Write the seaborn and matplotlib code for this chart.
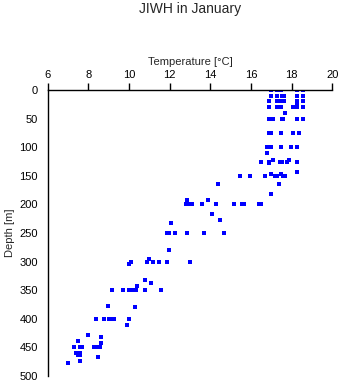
import matplotlib
matplotlib.use("Agg")
import matplotlib.pyplot as plt
import seaborn as sns
import pandas as pd

depth_m = (
    [0] * 5 + [10] * 6 + [20] * 6 + [25] + [30] * 6 + [40] + [50] * 6 + [75] * 5
    + [100] * 5 + [111] + [122, 122] + [125] * 6 + [128] + [144] + [147, 147]
    + [150] * 7 + [164, 164] + [181] + [193, 193] + [200] * 10 + [217] + [227]
    + [233] + [250] * 6 + [280] + [296] + [300] * 6 + [305] + [332] + [338]
    + [343] + [350] * 7 + [378] + [380] + [400] * 6 + [411] + [429] + [431]
    + [439] + [442] + [450] * 6 + [460] * 3 + [463] * 2 + [467] + [473] + [478]
)
temp_c = (
    [16.98, 17.28, 17.48, 18.26, 18.57]
    + [16.98, 17.28, 17.53, 17.61, 18.28, 18.57]
    + [16.88, 17.28, 17.49, 17.61, 18.26, 18.57]
    + [18.26]
    + [16.88, 17.28, 17.49, 18.08, 18.28, 18.57]
    + [17.67]
    + [16.88, 17.08, 17.51, 17.59, 18.28, 18.57]
    + [16.88, 17.00, 17.49, 18.08, 18.38]
    + [16.80, 17.00, 17.49, 17.98, 18.28]
    + [16.80]
    + [17.10, 17.88]
    + [16.51, 16.90, 17.41, 17.51, 17.79, 18.28]
    + [16.90]
    + [18.28]
    + [17.00, 17.49]
    + [15.46, 15.97, 16.70, 17.20, 17.29, 17.59, 17.69]
    + [14.39, 17.39]
    + [17.00]
    + [12.87, 13.90]
    + [12.79, 12.95, 13.08, 13.57, 14.29, 15.18, 15.55, 15.67, 16.38, 16.50]
    + [14.10]
    + [14.49]
    + [12.08]
    + [11.85, 11.98, 12.26, 12.84, 13.70, 14.69]
    + [11.98]
    + [11.00]
    + [10.08, 10.90, 11.19, 11.49, 11.88, 12.98]
    + [10.00]
    + [10.79]
    + [11.10]
    + [10.41]
    + [9.18, 9.70, 9.98, 10.15, 10.33, 10.80, 11.59]
    + [8.98]
    + [10.28]
    + [8.39, 8.78, 9.02, 9.10, 9.28, 10.00]
    + [9.89]
    + [8.00]
    + [8.61]
    + [7.50]
    + [8.61]
    + [7.31, 7.60, 7.70, 8.29, 8.39, 8.59]
    + [7.41, 7.50, 7.60]
    + [7.50, 7.60]
    + [8.49]
    + [7.60]
    + [7.00]
)

x_ticks = [6, 8, 10, 12, 14, 16, 18, 20]
y_ticks = [0, 50, 100, 150, 200, 250, 300, 350, 400, 450, 500]

df = pd.DataFrame({"Temperature": temp_c, "Depth": depth_m})

sns.set_style("white")
plt.rcParams["font.family"] = ["Liberation Sans", "DejaVu Sans"]

fig = plt.figure(figsize=(3.41, 3.84), dpi=100)
ax = fig.add_axes([47.7 / 341, 1 - 376 / 384, (332.3 - 47.7) / 341, (376 - 90) / 384])

sns.scatterplot(data=df, x="Temperature", y="Depth", ax=ax, marker="s",
                s=5, color="#0000FF", linewidth=0, legend=False)

ax.set_xlim(6, 20)
ax.set_ylim(500, 0)
ax.set_xticks(x_ticks)
ax.set_yticks(y_ticks)
ax.xaxis.set_ticks_position("top")
ax.xaxis.set_label_position("top")
ax.tick_params(axis="both", direction="out", length=5, width=1, color="black",
               labelsize=8, pad=2, labelcolor="black")
for side in ["right", "bottom"]:
    ax.spines[side].set_visible(False)
for side in ["left", "top"]:
    ax.spines[side].set_color("black")
    ax.spines[side].set_linewidth(1)

ax.set_xlabel("Temperature [°C]", fontsize=8, labelpad=4)
ax.set_ylabel("Depth [m]", fontsize=8, labelpad=3)
fig.text(190 / 341, 1 - 9 / 384, "JIWH in January", ha="center", va="center",
         fontsize=10)

fig.savefig("out.png", dpi=100)
